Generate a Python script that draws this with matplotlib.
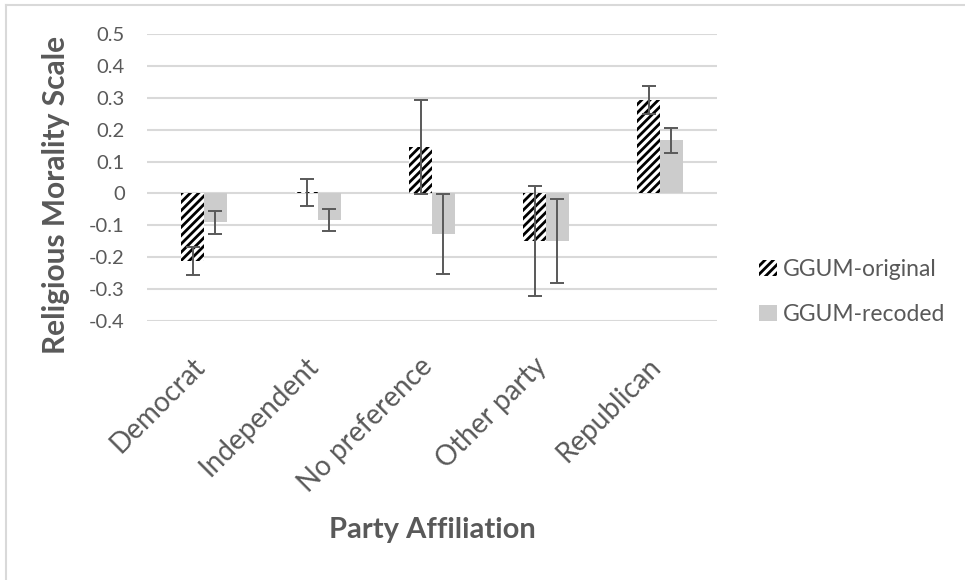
import numpy as np
import matplotlib
matplotlib.use('Agg')
import matplotlib.pyplot as plt
from matplotlib.patches import Patch
from matplotlib.lines import Line2D
from matplotlib.transforms import ScaledTranslation

# ── Data ───────────────────────────────────────────────────────────────────────
parties = ['Democrat', 'Independent', 'No preference', 'Other party', 'Republican']
original = [-0.211, 0.003, 0.145, -0.149, 0.292]
original_err = [0.044, 0.041, 0.147, 0.172, 0.044]
recoded = [-0.091, -0.084, -0.127, -0.149, 0.167]
recoded_err = [0.035, 0.034, 0.126, 0.133, 0.039]
yticks = [-0.4, -0.3, -0.2, -0.1, 0, 0.1, 0.2, 0.3, 0.4, 0.5]
ytick_labels = ['-0.4', '-0.3', '-0.2', '-0.1', '0', '0.1', '0.2', '0.3', '0.4', '0.5']

TEXT = '#595959'
GRID = '#d9d9d9'
GREY_BAR = '#cccccc'

plt.rcParams['font.family'] = ['Lato', 'DejaVu Sans']
plt.rcParams['hatch.linewidth'] = 2.0

fig = plt.figure(figsize=(9.65, 5.8), dpi=100)
ax = fig.add_axes([147 / 965, 1 - 321 / 580, 570 / 965, 287 / 580])

x = np.arange(len(parties))
w = 0.2

ax.bar(x - w / 2, original, w, facecolor='white', edgecolor='black',
       linewidth=0, hatch='////', zorder=2)
ax.bar(x + w / 2, recoded, w, color=GREY_BAR, linewidth=0, zorder=2)
ax.errorbar(x - w / 2, original, yerr=original_err, fmt='none', ecolor=TEXT,
            elinewidth=1.4, capsize=5, capthick=1.4, zorder=3)
ax.errorbar(x + w / 2, recoded, yerr=recoded_err, fmt='none', ecolor=TEXT,
            elinewidth=1.4, capsize=5, capthick=1.4, zorder=3)

ax.set_xlim(-0.5, len(parties) - 0.5)
ax.set_ylim(-0.4, 0.5)
ax.set_yticks(yticks)
ax.set_yticklabels(ytick_labels)
ax.yaxis.grid(True, color=GRID, linewidth=1.5, zorder=0)
ax.set_axisbelow(True)
for s in ax.spines.values():
    s.set_visible(False)

ax.tick_params(axis='y', length=0, pad=16, labelsize=14.5, labelcolor=TEXT)
ax.tick_params(axis='x', length=0, pad=23, labelsize=20, labelcolor=TEXT)
ax.set_xticks(x)
ax.set_xticklabels(parties, rotation=45, ha='right', va='top')
for lab in ax.get_xticklabels():
    lab.set_transform(lab.get_transform() + ScaledTranslation(0.06, 0, fig.dpi_scale_trans))

ax.set_ylabel('Religious Morality Scale', fontsize=21.5, fontweight='bold', color=TEXT)
ax.yaxis.set_label_coords(70 / 965, 1 - 195 / 580, transform=fig.transFigure)
fig.text(432 / 965, 1 - 530 / 580, 'Party Affiliation', fontsize=21, fontweight='bold',
         color=TEXT, ha='center', va='center')

handles = [Patch(facecolor='white', edgecolor='black', linewidth=0, hatch='////'),
           Patch(facecolor=GREY_BAR, linewidth=0)]
fig.legend(handles, ['GGUM-original', 'GGUM-recoded'], loc='center left',
           bbox_to_anchor=(759 / 965, 1 - 292 / 580), frameon=False, fontsize=16.5,
           labelcolor=TEXT, handlelength=0.8, handleheight=0.65, handletextpad=0.25,
           labelspacing=1.05, borderpad=0, borderaxespad=0)

# outer chart frame (top and left edges visible)
fig.add_artist(Line2D([6 / 965, 6 / 965], [0, 1 - 5 / 580], transform=fig.transFigure,
                      color=GRID, linewidth=1.5))
fig.add_artist(Line2D([6 / 965, 1], [1 - 5 / 580, 1 - 5 / 580], transform=fig.transFigure,
                      color=GRID, linewidth=1.5))

fig.savefig('out.png', dpi=100)
